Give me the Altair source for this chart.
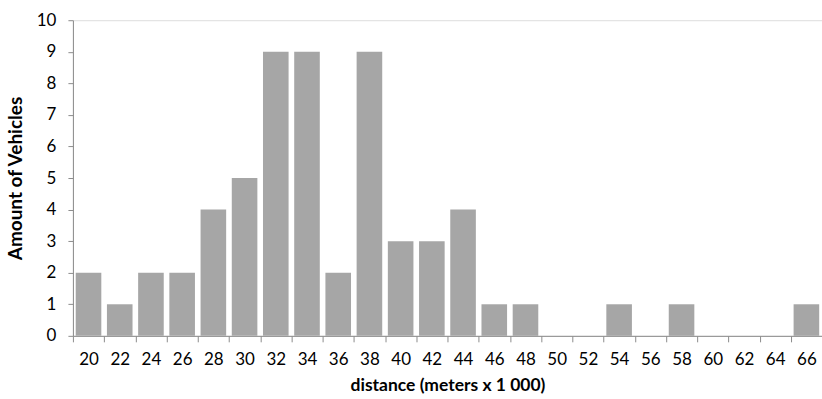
import altair as alt
import pandas as pd

distance = [str(v) for v in range(20, 68, 2)]
vehicles = [2, 1, 2, 2, 4, 5, 9, 9, 2, 9, 3, 3, 4, 1, 1, 0, 0, 1, 0, 1, 0, 0, 0, 1]

df = pd.DataFrame({"distance": distance, "vehicles": vehicles})

W = 750
H = 316
n = len(distance)
step = W / n
pi = 0.18

chart = (
    alt.Chart(df)
    .mark_bar(color="#A6A6A6")
    .encode(
        x=alt.X(
            "distance:N",
            sort=distance,
            scale=alt.Scale(paddingInner=pi, paddingOuter=pi / 2),
            axis=alt.Axis(
                title="distance (meters x 1 000)",
                labelAngle=0,
                labelFont="Lato",
                labelFontSize=17,
                labelColor="#000000",
                labelPadding=10,
                tickOffset=-step / 2,
                labelOffset=step / 2,
                tickSize=6,
                tickColor="#8C8C8C",
                domainColor="#8C8C8C",
                titleFont="Lato",
                titleFontSize=17.5,
                titleFontWeight="bold",
                titleColor="#000000",
                titlePadding=9,
            ),
        ),
        y=alt.Y(
            "vehicles:Q",
            scale=alt.Scale(domain=[0, 10], nice=False),
            axis=alt.Axis(
                title="Amount of Vehicles",
                values=list(range(0, 11)),
                grid=False,
                labelFont="Lato",
                labelFontSize=17,
                labelColor="#000000",
                labelPadding=12,
                tickSize=5,
                tickColor="#8C8C8C",
                domainColor="#8C8C8C",
                titleFont="Lato",
                titleFontSize=19,
                titleFontWeight="bold",
                titleColor="#000000",
                titlePadding=11,
            ),
        ),
    )
    .properties(
        width=W,
        height=H,
        autosize=alt.AutoSizeParams(type="none"),
        padding={"left": 73, "top": 20, "right": 0, "bottom": 63},
    )
    .configure_view(stroke=None)
    .configure(background="white")
)

chart.save("out.html", embed_options={"renderer": "svg", "actions": False})
